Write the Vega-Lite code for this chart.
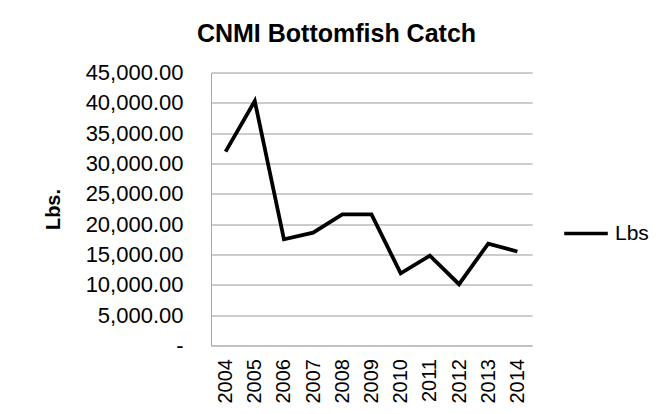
{
  "$schema": "https://vega.github.io/schema/vega-lite/v6.json",
  "autosize": "none",
  "width": 321,
  "height": 273,
  "padding": {"left": 211, "top": 72.5, "right": 127, "bottom": 68.5},
  "background": "white",
  "title": {
    "text": "CNMI Bottomfish Catch",
    "font": "Liberation Sans",
    "fontSize": 25,
    "fontWeight": "bold",
    "color": "#000000",
    "anchor": "middle",
    "frame": "group",
    "dx": -35,
    "offset": 15
  },
  "data": {
    "values": [
      {"year": "2004", "lbs": 31950},
      {"year": "2005", "lbs": 40300},
      {"year": "2006", "lbs": 17500},
      {"year": "2007", "lbs": 18600},
      {"year": "2008", "lbs": 21600},
      {"year": "2009", "lbs": 21600},
      {"year": "2010", "lbs": 11900},
      {"year": "2011", "lbs": 14800},
      {"year": "2012", "lbs": 10100},
      {"year": "2013", "lbs": 16800},
      {"year": "2014", "lbs": 15500}
    ]
  },
  "mark": {"type": "line", "strokeWidth": 3.8},
  "encoding": {
    "x": {
      "field": "year",
      "type": "ordinal",
      "axis": {
        "title": null,
        "labelAngle": -90,
        "labelFont": "Liberation Sans",
        "labelFontSize": 20,
        "labelColor": "#000000",
        "labelPadding": 13,
        "ticks": false,
        "tickSize": 0,
        "domainColor": "#bfbfbf",
        "domainWidth": 1.5,
        "grid": false
      }
    },
    "y": {
      "field": "lbs",
      "type": "quantitative",
      "scale": {"domain": [0, 45000], "nice": false},
      "axis": {
        "title": "Lbs.",
        "titleFont": "Liberation Sans",
        "titleFontSize": 20,
        "titleFontWeight": "bold",
        "titleColor": "#000000",
        "titleX": -158,
        "titleY": 136.5,
        "titleAlign": "center",
        "titleBaseline": "middle",
        "titleAngle": -90,
        "values": [0, 5000, 10000, 15000, 20000, 25000, 30000, 35000, 40000, 45000],
        "labelExpr": "datum.value == 0 ? '-\u00a0\u00a0' : format(datum.value, ',.2f')",
        "labelFont": "Liberation Sans",
        "labelFontSize": 22,
        "labelColor": "#000000",
        "labelPadding": 28,
        "ticks": false,
        "tickSize": 0,
        "grid": true,
        "gridColor": "#999999",
        "gridWidth": 1,
        "domainColor": "#a6a6a6",
        "domainWidth": 1
      }
    },
    "color": {
      "datum": "Lbs",
      "scale": {"range": ["#000000"]},
      "legend": {
        "title": null,
        "orient": "none",
        "legendX": 351,
        "legendY": 137,
        "symbolType": "stroke",
        "symbolSize": 1900,
        "symbolStrokeWidth": 3.5,
        "labelFont": "Liberation Sans",
        "labelFontSize": 21,
        "labelColor": "#000000",
        "labelOffset": 5
      }
    }
  },
  "config": {"view": {"stroke": null}}
}
